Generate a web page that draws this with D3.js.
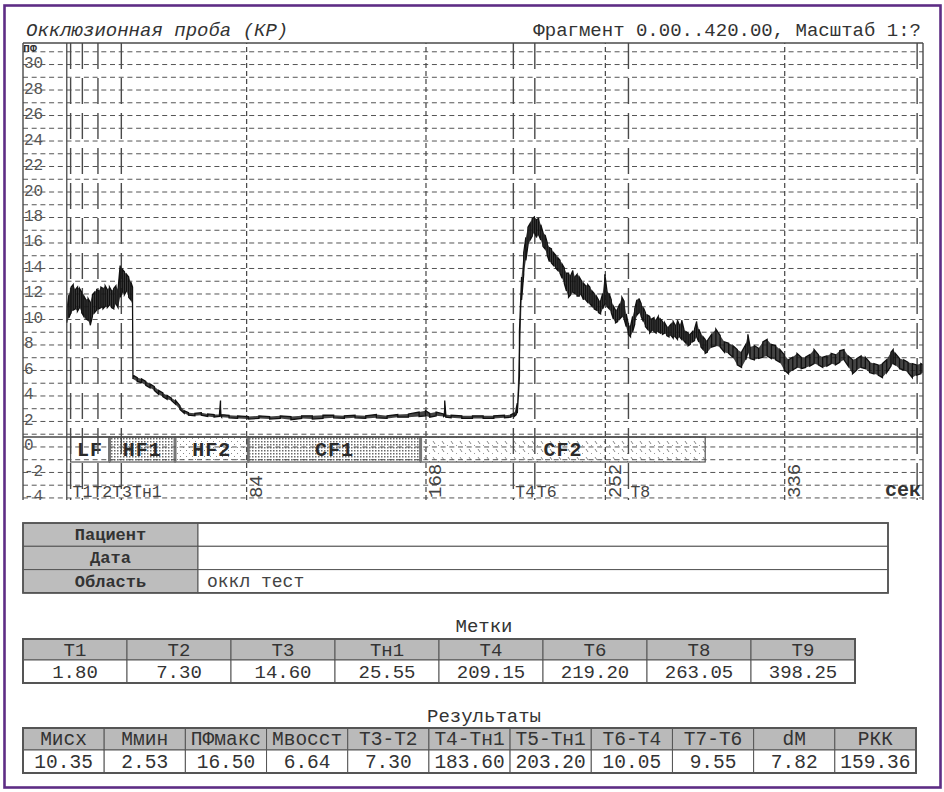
<!DOCTYPE html>
<html><head><meta charset="utf-8">
<script src="https://cdn.jsdelivr.net/npm/d3@7"></script>
<style>
html,body{margin:0;padding:0;background:#fff;}
svg{display:block;}
text{font-family:"Liberation Mono","DejaVu Sans Mono",monospace;}
</style></head><body>
<svg id="c" width="944" height="792"></svg>
<script>
// ---------------- data ----------------
const titleLeft = "Окклюзионная проба (КР)";
const titleRight = "Фрагмент 0.00..420.00, Масштаб 1:?";
const yUnit = "ПФ";
const xUnit = "сек";
const yLabelValues = [30,28,26,24,22,20,18,16,14,12,10,8,6,4,2,0,-2,-4];
const yGridValues = [-4,-3,-2,-1,0,1,2,3,4,5,6,7,8,9,10,11,12,13,14,15,16,17,18,19,20,21,22,23,24,25,26,27,28,29,30,31];
const xTickValues = [84,168,252,336];
const markerNames = ["T1","T2","T3","Тн1","T4","T6","T8","T9"];
const markerTimes = [1.80,7.30,14.60,25.55,209.15,219.20,263.05,398.25];
const bandNames  = ["LF","HF1","HF2","CF1","CF2"];
const bandStarts = [1.8,20.0,50.7,85.0,165.7];
const bandEnds   = [20.0,50.7,85.0,165.7,299.0];
const bandFills  = ["white","dense","sparse","dense","comma"];
// signal: [time s, low, high] envelope of the noisy trace
const signal = [
[0,9.7,10.6],[1,10.1,11.9],[2,10.5,12.5],[3,10.7,12.7],[4,10.8,12.3],[5,10.6,12.5],[6,10.9,12.4],[7,10.5,12.1],
[8,10.2,11.8],[9,10.0,11.5],[10,9.9,11.6],[11,9.5,11.3],[12,10.2,11.9],[13,10.5,12.1],[14,10.7,12.3],[15,10.8,12.2],
[16,10.9,12.5],[17,10.8,12.4],[18,11.0,12.6],[19,10.9,12.3],[20,11.1,12.5],[21,10.9,12.2],[22,10.8,12.4],[23,11.2,12.6],
[24,10.9,12.3],[25,11.7,14.2],[26,12.1,13.9],[27,11.9,13.7],[28,12.2,13.5],[29,11.7,13.3],[30,11.5,12.9],[30.8,11.1,12.5],
[31,5.3,5.6],[33,5.1,5.4],[35,5.0,5.3],[37,4.8,5.1],[39,4.6,4.9],[41,4.4,4.7],[43,4.1,4.4],[45,3.9,4.2],[47,3.7,4.0],
[49,3.6,3.8],[51,3.3,3.6],[53,2.9,3.2],[55,2.6,2.8],[57,2.45,2.65],[60,2.4,2.6],[63,2.45,2.65],[66,2.35,2.55],[69,2.3,2.5],
[71.5,2.35,2.5],[72,2.4,3.6],[72.5,2.3,2.5],[76,2.25,2.45],[80,2.2,2.4],[85,2.15,2.35],[90,2.2,2.4],[95,2.15,2.35],
[100,2.2,2.4],[105,2.1,2.35],[110,2.2,2.4],[115,2.15,2.4],[120,2.2,2.45],[125,2.25,2.45],[130,2.2,2.4],[135,2.25,2.45],
[140,2.2,2.4],[145,2.25,2.5],[150,2.2,2.4],[155,2.3,2.5],[160,2.3,2.55],[165,2.35,2.7],[168,2.4,2.8],[170,2.3,2.6],
[173,2.4,2.7],[176.5,2.35,2.55],[177,2.4,3.6],[177.5,2.3,2.5],[180,2.25,2.45],[185,2.2,2.4],[190,2.2,2.4],[195,2.2,2.4],
[200,2.2,2.4],[205,2.25,2.45],[208,2.3,2.5],[209.5,2.35,2.6],[210.5,2.5,3.0],
[211,2.6,3.4],[212,5.5,9.0],[213,11.5,13.3],[214,13.5,15.2],[215,14.6,16.4],[216,15.8,17.2],[217,16.2,17.5],[218,16.5,17.9],
[219,16.8,18.0],[220,16.4,17.8],[221,16.6,17.9],[222,16.2,17.4],[223,15.7,16.8],[224,15.5,16.6],[225,15.0,16.0],[226,14.5,15.6],
[227,14.4,15.5],[228,14.2,15.2],[229,14.0,15.0],[230,13.8,14.8],[231,13.6,14.6],[232,13.2,14.3],[233,12.8,14.0],[234,12.2,13.6],
[235,11.7,13.6],[236,11.9,13.4],[237,12.1,13.8],[238,12.0,13.3],[239,11.8,13.5],[240,11.8,13.3],[241,11.9,13.0],[242,11.5,12.8],
[243,11.5,12.6],[244,11.3,12.7],[245,11.2,12.5],[246,11.0,12.2],[247,10.8,12.0],[248,10.7,11.8],[249,10.5,11.5],[250,10.4,11.4],
[251,10.8,12.0],[252,11.2,13.5],[253,11.0,12.2],[254,10.8,12.0],[255,10.5,11.5],[256,10.0,11.0],[257,9.7,10.7],[258,9.8,10.8],
[259,10.0,11.2],[260,10.2,11.7],[261,10.0,11.4],[262,9.4,10.4],[263,8.8,9.6],[264,8.6,9.4],[265,9.0,10.2],[266,9.6,10.8],
[267,10.3,11.5],[268,10.5,11.6],[269,10.2,11.2],[270,9.8,10.9],[271,9.4,10.5],[272,9.2,10.3],[273,8.9,10.2],[274,9.1,10.0],
[275,9.0,10.1],[276,8.9,9.9],[277,9.0,10.2],[278,8.9,10.0],[279,8.8,9.8],[280,8.9,9.7],[281,8.7,9.4],[282,8.6,9.4],
[283,8.7,9.6],[284,8.5,9.8],[285,8.6,9.5],[286,8.4,9.9],[287,8.6,9.5],[288,8.4,9.9],[289,8.3,9.2],[290,8.1,9.0],
[291,7.9,8.9],[292,8.0,8.8],[293,8.2,9.0],[294,8.3,9.2],[295,8.6,9.8],[296,8.2,9.2],[297,7.8,8.8],[298,7.6,8.6],
[299,7.3,8.4],[300,7.4,8.3],[302,7.8,8.8],[304,7.9,9.2],[306,7.8,8.7],[308,7.4,8.2],[310,7.3,8.1],[312,7.0,7.9],
[314,6.4,7.6],[316,6.2,7.4],[318,6.8,8.0],[319,7.4,8.8],[320,6.9,7.8],[322,6.8,7.9],[324,6.9,7.7],[326,7.0,8.2],
[328,7.1,8.4],[330,6.9,8.0],[332,6.8,7.9],[334,6.6,7.6],[336,6.0,7.2],[338,5.7,6.8],[340,6.0,7.0],[342,6.2,7.3],
[344,6.1,7.0],[346,6.2,7.0],[348,6.3,7.2],[350,6.5,7.6],[352,6.4,7.2],[354,6.2,7.0],[356,6.3,7.1],[358,6.5,7.3],
[360,6.4,7.2],[362,6.6,7.5],[364,6.8,7.6],[366,6.3,7.1],[368,5.7,6.8],[370,6.0,6.9],[372,6.2,7.1],[374,6.1,7.0],
[376,5.8,6.6],[378,5.7,6.5],[380,5.6,6.4],[382,5.4,6.5],[384,5.8,6.8],[386,6.3,7.4],[387,6.5,7.6],[388,6.4,7.3],
[390,6.1,6.9],[392,6.0,6.8],[394,5.8,6.6],[396,5.4,6.5],[398,5.6,6.4],[400,5.7,6.5],[401,5.8,6.4]
];
const infoLabels = ["Пациент","Дата","Область"];
const infoValues = ["","","оккл тест"];
const marksTitle = "Метки";
const marksHeaders = ["T1","T2","T3","Тн1","T4","T6","T8","T9"];
const marksValues = ["1.80","7.30","14.60","25.55","209.15","219.20","263.05","398.25"];
const resTitle = "Результаты";
const resHeaders = ["Мисх","Ммин","ПФмакс","Мвосст","T3-T2","T4-Тн1","T5-Тн1","T6-T4","T7-T6","dM","РКК"];
const resValues = ["10.35","2.53","16.50","6.64","7.30","183.60","203.20","10.05","9.55","7.82","159.36"];

// ---------------- drawing ----------------
const svg = d3.select("#c");
const P = {l:23, t:43, r:923, b:500};
const x = d3.scaleLinear().domain([-20.5, 401]).range([P.l, P.r]);
const y = d3.scaleLinear().domain([-4.2, 31.65]).range([P.b, P.t]);
const ink = "#4a4a4a";

const defs = svg.append("defs");
defs.append("clipPath").attr("id","pc").append("rect")
  .attr("x",P.l).attr("y",P.t).attr("width",P.r-P.l).attr("height",P.b-P.t);
let p = defs.append("pattern").attr("id","dense").attr("width",3).attr("height",3).attr("patternUnits","userSpaceOnUse");
p.append("rect").attr("width",3).attr("height",3).attr("fill","#fff");
p.append("rect").attr("width",1.5).attr("height",1.5).attr("fill","#6a6a6a");
p = defs.append("pattern").attr("id","sparse").attr("width",6).attr("height",6).attr("patternUnits","userSpaceOnUse");
p.append("rect").attr("width",6).attr("height",6).attr("fill","#fff");
p.append("rect").attr("x",0).attr("y",0).attr("width",1).attr("height",1).attr("fill","#888");
p.append("rect").attr("x",3).attr("y",3).attr("width",1).attr("height",1).attr("fill","#888");
p = defs.append("pattern").attr("id","comma").attr("width",9).attr("height",8).attr("patternUnits","userSpaceOnUse");
p.append("rect").attr("width",9).attr("height",8).attr("fill","#fff");
p.append("line").attr("x1",1).attr("y1",1).attr("x2",3).attr("y2",4).attr("stroke","#888").attr("stroke-width",1);
p.append("rect").attr("x",6).attr("y",5).attr("width",1).attr("height",1).attr("fill","#999");

// outer purple frame
svg.append("rect").attr("x",4.5).attr("y",5.5).attr("width",936).attr("height",782)
  .attr("fill","none").attr("stroke","#5e2d85").attr("stroke-width",2.6);

// titles
svg.append("text").attr("x",26).attr("y",36).attr("font-size",19).attr("font-style","italic")
  .attr("fill","#333").text(titleLeft);
svg.append("text").attr("x",921).attr("y",36).attr("font-size",19).attr("text-anchor","end")
  .attr("fill","#333").text(titleRight);

const plot = svg.append("g").attr("clip-path","url(#pc)");

// frequency band boxes
const bandTop = 437, bandH = 25;
const bands = bandNames.map((n,i)=>({n, s:bandStarts[i], e:bandEnds[i], f:bandFills[i]}));
plot.selectAll("rect.band").data(bands).join("rect").attr("class","band")
  .attr("x",d=>x(d.s)).attr("y",bandTop).attr("width",d=>x(d.e)-x(d.s)).attr("height",bandH)
  .attr("fill",d=>d.f==="white"?"#fff":`url(#${d.f})`).attr("stroke","#555").attr("stroke-width",1.2);
plot.selectAll("line.sep").data(bands.slice(1)).join("line").attr("class","sep")
  .attr("x1",d=>x(d.s)).attr("x2",d=>x(d.s)).attr("y1",bandTop).attr("y2",bandTop+bandH)
  .attr("stroke","#777").attr("stroke-width",3);

// horizontal dashed grid
const gy = plot.append("g").attr("transform",`translate(${P.l},0)`)
  .call(d3.axisLeft(y).tickValues(yGridValues).tickSize(-(P.r-P.l)).tickFormat(""));
gy.select(".domain").remove();
gy.selectAll("line").attr("stroke","#555").attr("stroke-width",1).attr("stroke-dasharray","5,3.7");

// vertical dashed grid
const gx = plot.append("g").attr("transform",`translate(0,${P.b})`)
  .call(d3.axisBottom(x).tickValues(xTickValues).tickSize(-(P.b-P.t)).tickFormat(""));
gx.select(".domain").remove();
gx.selectAll("line").attr("stroke","#444").attr("stroke-width",1.2).attr("stroke-dasharray","5,3");

// band labels
plot.selectAll("text.bandlab").data(bands).join("text").attr("class","bandlab")
  .attr("x",d=>(x(d.s)+x(d.e))/2).attr("y",bandTop+bandH/2+1).attr("dominant-baseline","central")
  .attr("text-anchor","middle").attr("font-size",20).attr("font-weight","bold")
  .attr("letter-spacing",1).attr("fill","#2a2a2a").text(d=>d.n);

// y labels
plot.selectAll("text.ylab").data(yLabelValues).join("text").attr("class","ylab")
  .attr("x",24).attr("y",d=>y(d)).attr("dominant-baseline","central")
  .attr("font-size",16).attr("fill","#555").text(d=>d);
plot.append("text").attr("x",23).attr("y",48).attr("dominant-baseline","central")
  .attr("font-size",11.5).attr("font-weight","bold").attr("fill","#333").text(yUnit);

// x tick labels (rotated)
plot.selectAll("text.xlab").data(xTickValues).join("text").attr("class","xlab")
  .attr("transform",d=>`translate(${x(d)+16},${P.b-2}) rotate(-90)`)
  .attr("font-size",19).attr("fill","#444").text(d=>d);

// frame lines
svg.append("line").attr("x1",P.l).attr("x2",P.r).attr("y1",P.t).attr("y2",P.t).attr("stroke",ink).attr("stroke-width",1.4);
svg.append("line").attr("x1",P.l).attr("x2",P.l).attr("y1",P.t).attr("y2",P.b).attr("stroke",ink).attr("stroke-width",1.4);
svg.append("line").attr("x1",P.r).attr("x2",P.r).attr("y1",P.t).attr("y2",P.b).attr("stroke",ink).attr("stroke-width",1.4);
svg.append("line").attr("x1",P.l).attr("x2",P.r).attr("y1",bandTop).attr("y2",bandTop).attr("stroke",ink).attr("stroke-width",1.3);
svg.append("line").attr("x1",x(0)).attr("x2",x(0)).attr("y1",P.t).attr("y2",P.b).attr("stroke",ink).attr("stroke-width",1.3);

// marker lines
const markers = markerNames.map((n,i)=>({n, t:markerTimes[i]}));
plot.selectAll("line.mk").data(markers).join("line").attr("class","mk")
  .attr("x1",d=>x(d.t)).attr("x2",d=>x(d.t)).attr("y1",P.t).attr("y2",P.b)
  .attr("stroke","#4a4a4a").attr("stroke-width",1.4).attr("stroke-dasharray","26,9");

// signal: envelope fill + zig-zag trace between low and high of each sample
const area = d3.area().x(d=>x(d[0])).y0(d=>y(d[1])).y1(d=>y(d[2]));
plot.append("path").datum(signal).attr("d",area)
  .attr("fill","#222").attr("fill-opacity",0.85).attr("stroke","none");
const zig = [];
signal.forEach((d,i)=>{ if(i%2===0){ zig.push([d[0],d[1]]); zig.push([d[0],d[2]]); } else { zig.push([d[0],d[2]]); zig.push([d[0],d[1]]); } });
plot.append("path").datum(zig).attr("d",d3.line().x(d=>x(d[0])).y(d=>y(d[1])))
  .attr("fill","none").attr("stroke","#111").attr("stroke-width",1.3).attr("stroke-linejoin","miter");

// marker labels at bottom (shifted to avoid overlap)
const lblSize = 16.5, charW = lblSize*0.6;
let lastEnd = -1e9;
const mlabels = [];
markers.slice(0,7).forEach(m=>{
  const sx = Math.max(x(m.t)+2, lastEnd);
  mlabels.push({n:m.n, x:sx});
  lastEnd = sx + m.n.length*charW;
});
plot.selectAll("text.mlab").data(mlabels).join("text").attr("class","mlab")
  .attr("x",d=>d.x).attr("y",P.b-3).attr("font-size",lblSize).attr("fill","#444").text(d=>d.n);
plot.append("text").attr("x",921).attr("y",P.b-4).attr("text-anchor","end")
  .attr("font-size",20).attr("font-weight","bold").attr("fill","#333").text(xUnit);

// ---------------- tables ----------------
const it = {x0:23, x1:888, xs:198, top:523, rh:23.3};
const ig = svg.append("g");
infoLabels.forEach((lab,i)=>{
  const yy = it.top + i*it.rh;
  ig.append("rect").attr("x",it.x0).attr("y",yy).attr("width",it.xs-it.x0).attr("height",it.rh)
    .attr("fill","#bdbdbd").attr("stroke","#555").attr("stroke-width",1);
  ig.append("rect").attr("x",it.xs).attr("y",yy).attr("width",it.x1-it.xs).attr("height",it.rh)
    .attr("fill","#fff").attr("stroke","#555").attr("stroke-width",1);
  ig.append("text").attr("x",(it.x0+it.xs)/2).attr("y",yy+it.rh/2+1).attr("dominant-baseline","central")
    .attr("text-anchor","middle").attr("font-size",17).attr("font-weight","bold").attr("fill","#333").text(lab);
  ig.append("text").attr("x",it.xs+9).attr("y",yy+it.rh/2+1).attr("dominant-baseline","central")
    .attr("font-size",18).attr("fill","#444").text(infoValues[i]);
});
ig.append("rect").attr("x",it.x0).attr("y",it.top).attr("width",it.x1-it.x0).attr("height",it.rh*3)
  .attr("fill","none").attr("stroke","#555").attr("stroke-width",1.8);

function rowTable(title, titleY, x0, x1, top, hH, vH, heads, vals, fs){
  const g = svg.append("g");
  g.append("text").attr("x",484).attr("y",titleY).attr("dominant-baseline","central")
    .attr("text-anchor","middle").attr("font-size",19).attr("fill","#333").text(title);
  const cx = d3.scaleBand().domain(d3.range(heads.length)).range([x0,x1]);
  heads.forEach((h,i)=>{
    g.append("rect").attr("x",cx(i)).attr("y",top).attr("width",cx.bandwidth()).attr("height",hH)
      .attr("fill","#bababa").attr("stroke","#555").attr("stroke-width",1);
    g.append("rect").attr("x",cx(i)).attr("y",top+hH).attr("width",cx.bandwidth()).attr("height",vH)
      .attr("fill","#fff").attr("stroke","#555").attr("stroke-width",1);
    g.append("text").attr("x",cx(i)+cx.bandwidth()/2).attr("y",top+hH/2+1).attr("dominant-baseline","central")
      .attr("text-anchor","middle").attr("font-size",fs).attr("fill","#333").text(h);
    g.append("text").attr("x",cx(i)+cx.bandwidth()/2).attr("y",top+hH+vH/2+1).attr("dominant-baseline","central")
      .attr("text-anchor","middle").attr("font-size",fs).attr("fill","#333").text(vals[i]);
  });
  g.append("rect").attr("x",x0).attr("y",top).attr("width",x1-x0).attr("height",hH+vH)
    .attr("fill","none").attr("stroke","#555").attr("stroke-width",2);
}
rowTable(marksTitle, 627, 23, 855, 639, 21, 23, marksHeaders, marksValues, 19);
rowTable(resTitle, 717, 23, 916, 728, 22, 23, resHeaders, resValues, 19.5);
</script>
</body></html>
